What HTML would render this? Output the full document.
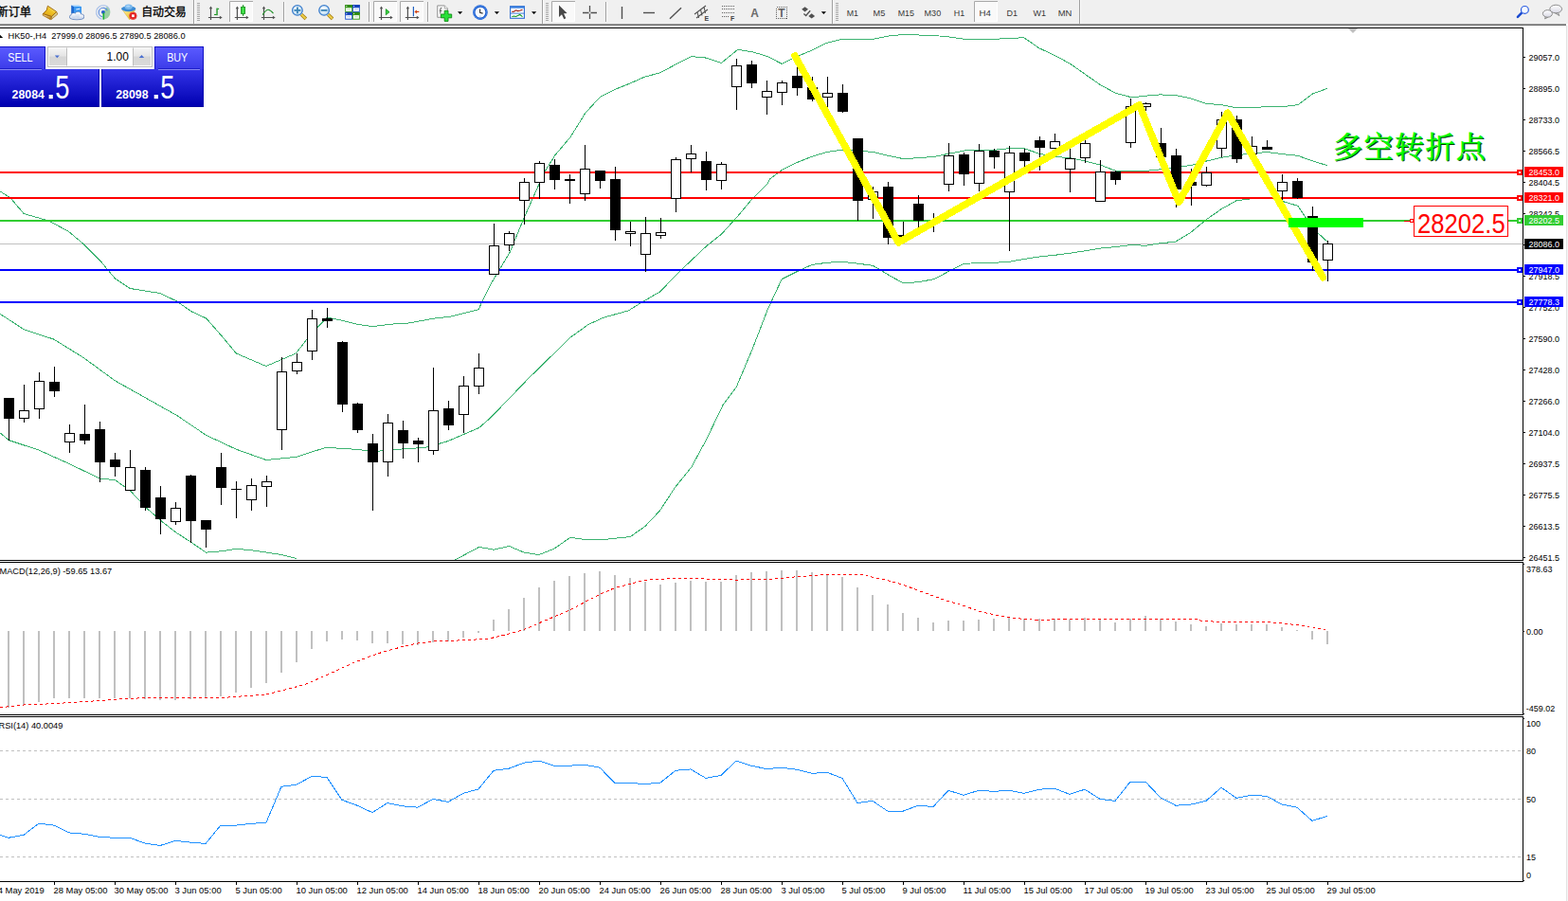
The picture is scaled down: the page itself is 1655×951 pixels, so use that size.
<!DOCTYPE html>
<html><head><meta charset="utf-8"><title>HK50 H4</title>
<style>
html,body{margin:0;padding:0;background:#fff;overflow:hidden}
body{width:1655px;height:951px;position:relative;font-family:'Liberation Sans',sans-serif}
</style></head>
<body>
<svg width="1655" height="951" viewBox="0 0 1655 951" style="position:absolute;left:0;top:0" font-family="'Liberation Sans', sans-serif" shape-rendering="crispEdges">
<defs><clipPath id="cm"><rect x="0" y="30" width="1607" height="561"/></clipPath><clipPath id="cd"><rect x="0" y="594" width="1607" height="160"/></clipPath><clipPath id="cr"><rect x="0" y="757" width="1607" height="173"/></clipPath></defs>
<g clip-path="url(#cm)">
<rect x="0" y="257" width="1607" height="1" fill="#C0C0C0"/>
<polyline points="0.0,201.9 11.0,208.9 25.2,225.6 52.1,233.2 72.6,244.5 88.4,257.8 105.7,275.1 121.5,294.1 137.3,304.5 168.8,309.5 186.2,317.7 202.0,328.8 217.7,336.0 233.5,354.0 249.3,373.0 280.8,386.5 312.4,373.0 328.2,352.4 345.5,335.1 361.3,338.2 377.1,342.3 392.9,344.6 420.0,341.4 431.6,341.0 456.8,336.3 475.7,334.1 505.1,326.8 508.9,318.3 518.1,299.8 537.9,266.7 553.6,228.9 566.2,200.5 575.7,180.0 586.0,163.6 602.0,144.8 617.7,119.5 633.5,102.2 649.3,94.3 665.1,88.0 680.8,81.0 696.6,76.9 712.4,68.4 729.8,59.6 745.5,61.1 761.3,66.5 778.7,52.3 794.4,54.8 810.2,59.6 825.2,67.4 841.0,59.6 856.8,53.2 872.6,45.4 888.4,41.3 921.5,41.3 937.3,38.1 953.0,36.5 986.2,37.5 1002.0,39.0 1017.7,41.3 1049.3,41.3 1080.8,39.7 1096.6,50.7 1112.4,58.0 1129.8,67.4 1145.5,78.5 1161.3,89.5 1177.1,98.1 1194.4,102.8 1208.9,101.2 1224.7,99.9 1240.5,100.6 1256.3,103.7 1273.6,109.4 1289.4,110.7 1305.2,113.8 1321.0,113.8 1336.7,112.6 1354.1,112.6 1369.9,110.7 1385.6,99.0 1401.1,93.3" fill="none" stroke="#3CB371" stroke-width="1" />
<polyline points="0.0,331.3 25.2,347.7 56.8,358.1 88.4,377.7 121.5,401.9 186.2,438.2 217.7,459.4 249.3,474.2 280.8,485.5 312.4,482.4 344.0,472.3 378.7,474.5 393.5,476.7 420.0,474.2 431.6,473.6 450.5,472.0 472.6,465.7 505.7,451.5 518.3,440.4 557.8,399.4 602.0,356.2 620.9,342.6 636.7,335.3 663.5,327.8 677.7,318.9 696.6,307.9 718.7,285.2 745.5,259.9 761.3,247.3 777.1,230.0 794.4,209.4 810.2,193.7 812.6,188.9 825.2,179.5 841.0,171.6 856.8,165.3 872.6,160.5 889.9,158.0 905.7,159.0 921.5,160.5 937.3,164.3 953.0,167.5 968.8,166.8 986.2,165.3 1002.0,162.1 1017.7,159.0 1033.5,158.3 1049.3,158.3 1065.1,156.7 1080.8,156.7 1096.6,162.1 1112.4,165.3 1129.8,166.8 1145.5,170.0 1161.3,174.1 1177.1,180.1 1194.4,181.0 1208.9,180.4 1224.7,178.8 1240.5,176.3 1256.3,174.7 1273.6,170.0 1289.4,166.2 1305.2,163.7 1321.0,162.1 1336.7,160.5 1354.1,162.7 1369.9,164.3 1385.6,170.0 1401.1,174.7" fill="none" stroke="#3CB371" stroke-width="1" />
<polyline points="0.0,456.8 9.5,464.7 41.0,475.1 72.6,489.3 105.4,505.1 121.5,506.7 137.3,517.7 153.4,535.1 169.5,549.3 185.5,561.9 201.3,572.0 217.4,583.1 233.5,581.8 249.6,579.3 265.4,580.8 281.5,583.1 297.6,585.6 313.3,589.7" fill="none" stroke="#3CB371" stroke-width="1" />
<polyline points="480.5,590.9 505.7,577.4 521.5,580.2 537.3,576.4 553.0,583.1 568.8,585.6 584.6,579.3 602.0,567.3 617.7,569.5 636.7,569.5 665.1,566.6 680.8,555.6 696.6,538.9 712.4,514.6 729.8,493.1 745.5,464.1 762.9,427.8 777.1,408.9 794.4,367.8 810.2,326.8 825.2,294.6 841.0,286.8 856.8,279.5 872.6,277.3 888.4,276.3 905.7,278.2 921.5,280.4 937.3,289.9 953.0,298.7 968.8,297.8 986.2,294.6 1002.0,286.1 1017.7,278.2 1049.3,277.3 1065.1,276.3 1080.8,273.5 1096.6,271.0 1112.4,269.4 1129.8,267.2 1145.5,264.7 1161.3,262.1 1177.1,260.6 1194.4,258.4 1208.9,259.3 1224.7,256.8 1240.5,255.2 1256.3,245.7 1273.6,231.5 1289.4,220.5 1305.2,211.7 1325.7,209.1 1344.0,209.4 1354.1,212.6 1369.9,217.3 1385.6,241.0 1401.1,255.2" fill="none" stroke="#3CB371" stroke-width="1" />
<rect x="0" y="181" width="1607" height="2" fill="#FF0000"/>
<rect x="0" y="208" width="1607" height="2" fill="#FF0000"/>
<rect x="0" y="232" width="1607" height="2" fill="#32CD32"/>
<rect x="0" y="284" width="1607" height="2" fill="#0000FF"/>
<rect x="0" y="318" width="1607" height="2" fill="#0000FF"/>
<rect x="1601" y="179" width="6" height="6" fill="#FF0000"/><rect x="1603" y="181" width="2" height="2" fill="#fff"/>
<rect x="1601" y="206" width="6" height="6" fill="#FF0000"/><rect x="1603" y="208" width="2" height="2" fill="#fff"/>
<rect x="1601" y="230" width="6" height="6" fill="#32CD32"/><rect x="1603" y="232" width="2" height="2" fill="#fff"/>
<rect x="1601" y="282" width="6" height="6" fill="#0000FF"/><rect x="1603" y="284" width="2" height="2" fill="#fff"/>
<rect x="1601" y="316" width="6" height="6" fill="#0000FF"/><rect x="1603" y="318" width="2" height="2" fill="#fff"/>
<rect x="9" y="420" width="1" height="45" fill="#000"/>
<rect x="4" y="420" width="11" height="22" fill="#000"/>
<rect x="25" y="406" width="1" height="40" fill="#000"/>
<rect x="20.5" y="433.5" width="10" height="8" fill="#fff" stroke="#000" stroke-width="1"/>
<rect x="41" y="393" width="1" height="49" fill="#000"/>
<rect x="36.5" y="402.5" width="10" height="29" fill="#fff" stroke="#000" stroke-width="1"/>
<rect x="57" y="387" width="1" height="32" fill="#000"/>
<rect x="52" y="403" width="11" height="10" fill="#000"/>
<rect x="73" y="448" width="1" height="30" fill="#000"/>
<rect x="68.5" y="457.5" width="10" height="9" fill="#fff" stroke="#000" stroke-width="1"/>
<rect x="89" y="427" width="1" height="42" fill="#000"/>
<rect x="84" y="458" width="11" height="7" fill="#000"/>
<rect x="105" y="445" width="1" height="64" fill="#000"/>
<rect x="100" y="453" width="11" height="35" fill="#000"/>
<rect x="121" y="478" width="1" height="25" fill="#000"/>
<rect x="116" y="485" width="11" height="8" fill="#000"/>
<rect x="137" y="475" width="1" height="43" fill="#000"/>
<rect x="132.5" y="493.5" width="10" height="24" fill="#fff" stroke="#000" stroke-width="1"/>
<rect x="153" y="493" width="1" height="46" fill="#000"/>
<rect x="148" y="496" width="11" height="40" fill="#000"/>
<rect x="169" y="513" width="1" height="51" fill="#000"/>
<rect x="164" y="525" width="11" height="23" fill="#000"/>
<rect x="185" y="530" width="1" height="24" fill="#000"/>
<rect x="180.5" y="536.5" width="10" height="14" fill="#fff" stroke="#000" stroke-width="1"/>
<rect x="201" y="501" width="1" height="72" fill="#000"/>
<rect x="196" y="502" width="11" height="48" fill="#000"/>
<rect x="217" y="549" width="1" height="29" fill="#000"/>
<rect x="212" y="549" width="11" height="10" fill="#000"/>
<rect x="233" y="478" width="1" height="55" fill="#000"/>
<rect x="228" y="493" width="11" height="22" fill="#000"/>
<rect x="249" y="508" width="1" height="39" fill="#000"/>
<rect x="244" y="516" width="11" height="1" fill="#000"/>
<rect x="265" y="505" width="1" height="34" fill="#000"/>
<rect x="260.5" y="512.5" width="10" height="15" fill="#fff" stroke="#000" stroke-width="1"/>
<rect x="281" y="502" width="1" height="33" fill="#000"/>
<rect x="276.5" y="508.5" width="10" height="5" fill="#fff" stroke="#000" stroke-width="1"/>
<rect x="297" y="377" width="1" height="98" fill="#000"/>
<rect x="292.5" y="392.5" width="10" height="61" fill="#fff" stroke="#000" stroke-width="1"/>
<rect x="313" y="373" width="1" height="22" fill="#000"/>
<rect x="308.5" y="382.5" width="10" height="9" fill="#fff" stroke="#000" stroke-width="1"/>
<rect x="329" y="327" width="1" height="53" fill="#000"/>
<rect x="324.5" y="336.5" width="10" height="34" fill="#fff" stroke="#000" stroke-width="1"/>
<rect x="345" y="325" width="1" height="21" fill="#000"/>
<rect x="340" y="336" width="11" height="3" fill="#000"/>
<rect x="361" y="360" width="1" height="75" fill="#000"/>
<rect x="356" y="361" width="11" height="66" fill="#000"/>
<rect x="377" y="425" width="1" height="32" fill="#000"/>
<rect x="372" y="426" width="11" height="28" fill="#000"/>
<rect x="393" y="458" width="1" height="81" fill="#000"/>
<rect x="388" y="468" width="11" height="20" fill="#000"/>
<rect x="409" y="437" width="1" height="66" fill="#000"/>
<rect x="404.5" y="446.5" width="10" height="41" fill="#fff" stroke="#000" stroke-width="1"/>
<rect x="425" y="444" width="1" height="40" fill="#000"/>
<rect x="420" y="454" width="11" height="14" fill="#000"/>
<rect x="441" y="462" width="1" height="26" fill="#000"/>
<rect x="436" y="465" width="11" height="4" fill="#000"/>
<rect x="457" y="388" width="1" height="92" fill="#000"/>
<rect x="452.5" y="433.5" width="10" height="42" fill="#fff" stroke="#000" stroke-width="1"/>
<rect x="473" y="423" width="1" height="31" fill="#000"/>
<rect x="468" y="431" width="11" height="18" fill="#000"/>
<rect x="489" y="397" width="1" height="60" fill="#000"/>
<rect x="484.5" y="407.5" width="10" height="30" fill="#fff" stroke="#000" stroke-width="1"/>
<rect x="505" y="373" width="1" height="43" fill="#000"/>
<rect x="500.5" y="388.5" width="10" height="19" fill="#fff" stroke="#000" stroke-width="1"/>
<rect x="521" y="236" width="1" height="54" fill="#000"/>
<rect x="516.5" y="259.5" width="10" height="30" fill="#fff" stroke="#000" stroke-width="1"/>
<rect x="537" y="244" width="1" height="21" fill="#000"/>
<rect x="532.5" y="246.5" width="10" height="12" fill="#fff" stroke="#000" stroke-width="1"/>
<rect x="553" y="188" width="1" height="49" fill="#000"/>
<rect x="548.5" y="192.5" width="10" height="19" fill="#fff" stroke="#000" stroke-width="1"/>
<rect x="569" y="170" width="1" height="40" fill="#000"/>
<rect x="564.5" y="172.5" width="10" height="20" fill="#fff" stroke="#000" stroke-width="1"/>
<rect x="585" y="168" width="1" height="32" fill="#000"/>
<rect x="580" y="174" width="11" height="16" fill="#000"/>
<rect x="601" y="184" width="1" height="31" fill="#000"/>
<rect x="596" y="189" width="11" height="2" fill="#000"/>
<rect x="617" y="153" width="1" height="59" fill="#000"/>
<rect x="612.5" y="178.5" width="10" height="26" fill="#fff" stroke="#000" stroke-width="1"/>
<rect x="633" y="180" width="1" height="19" fill="#000"/>
<rect x="628" y="180" width="11" height="11" fill="#000"/>
<rect x="649" y="176" width="1" height="78" fill="#000"/>
<rect x="644" y="189" width="11" height="54" fill="#000"/>
<rect x="665" y="234" width="1" height="26" fill="#000"/>
<rect x="660.5" y="244.5" width="10" height="2" fill="#fff" stroke="#000" stroke-width="1"/>
<rect x="681" y="229" width="1" height="58" fill="#000"/>
<rect x="676.5" y="246.5" width="10" height="22" fill="#fff" stroke="#000" stroke-width="1"/>
<rect x="697" y="230" width="1" height="22" fill="#000"/>
<rect x="692.5" y="245.5" width="10" height="3" fill="#fff" stroke="#000" stroke-width="1"/>
<rect x="713" y="166" width="1" height="58" fill="#000"/>
<rect x="708.5" y="168.5" width="10" height="41" fill="#fff" stroke="#000" stroke-width="1"/>
<rect x="729" y="153" width="1" height="29" fill="#000"/>
<rect x="724.5" y="162.5" width="10" height="5" fill="#fff" stroke="#000" stroke-width="1"/>
<rect x="745" y="160" width="1" height="41" fill="#000"/>
<rect x="740" y="170" width="11" height="20" fill="#000"/>
<rect x="761" y="171" width="1" height="29" fill="#000"/>
<rect x="756.5" y="173.5" width="10" height="17" fill="#fff" stroke="#000" stroke-width="1"/>
<rect x="777" y="62" width="1" height="54" fill="#000"/>
<rect x="772.5" y="69.5" width="10" height="22" fill="#fff" stroke="#000" stroke-width="1"/>
<rect x="793" y="64" width="1" height="29" fill="#000"/>
<rect x="788" y="68" width="11" height="20" fill="#000"/>
<rect x="809" y="85" width="1" height="36" fill="#000"/>
<rect x="804.5" y="96.5" width="10" height="6" fill="#fff" stroke="#000" stroke-width="1"/>
<rect x="825" y="85" width="1" height="26" fill="#000"/>
<rect x="820.5" y="87.5" width="10" height="10" fill="#fff" stroke="#000" stroke-width="1"/>
<rect x="841" y="70" width="1" height="31" fill="#000"/>
<rect x="836" y="80" width="11" height="13" fill="#000"/>
<rect x="857" y="81" width="1" height="26" fill="#000"/>
<rect x="852" y="92" width="11" height="13" fill="#000"/>
<rect x="873" y="81" width="1" height="34" fill="#000"/>
<rect x="868.5" y="98.5" width="10" height="4" fill="#fff" stroke="#000" stroke-width="1"/>
<rect x="889" y="89" width="1" height="30" fill="#000"/>
<rect x="884" y="98" width="11" height="20" fill="#000"/>
<rect x="905" y="146" width="1" height="87" fill="#000"/>
<rect x="900" y="146" width="11" height="66" fill="#000"/>
<rect x="921" y="197" width="1" height="34" fill="#000"/>
<rect x="916.5" y="202.5" width="10" height="8" fill="#fff" stroke="#000" stroke-width="1"/>
<rect x="937" y="192" width="1" height="66" fill="#000"/>
<rect x="932" y="197" width="11" height="54" fill="#000"/>
<rect x="953" y="234" width="1" height="17" fill="#000"/>
<rect x="948" y="248" width="11" height="3" fill="#000"/>
<rect x="969" y="206" width="1" height="34" fill="#000"/>
<rect x="964" y="215" width="11" height="18" fill="#000"/>
<rect x="985" y="225" width="1" height="20" fill="#000"/>
<rect x="980" y="233" width="11" height="2" fill="#000"/>
<rect x="1001" y="151" width="1" height="51" fill="#000"/>
<rect x="996.5" y="164.5" width="10" height="30" fill="#fff" stroke="#000" stroke-width="1"/>
<rect x="1017" y="161" width="1" height="35" fill="#000"/>
<rect x="1012" y="163" width="11" height="21" fill="#000"/>
<rect x="1033" y="152" width="1" height="50" fill="#000"/>
<rect x="1028.5" y="159.5" width="10" height="34" fill="#fff" stroke="#000" stroke-width="1"/>
<rect x="1049" y="157" width="1" height="21" fill="#000"/>
<rect x="1044" y="159" width="11" height="7" fill="#000"/>
<rect x="1065" y="154" width="1" height="111" fill="#000"/>
<rect x="1060.5" y="161.5" width="10" height="41" fill="#fff" stroke="#000" stroke-width="1"/>
<rect x="1081" y="157" width="1" height="20" fill="#000"/>
<rect x="1076" y="161" width="11" height="9" fill="#000"/>
<rect x="1097" y="144" width="1" height="36" fill="#000"/>
<rect x="1092" y="148" width="11" height="8" fill="#000"/>
<rect x="1113" y="141" width="1" height="16" fill="#000"/>
<rect x="1108.5" y="149.5" width="10" height="7" fill="#fff" stroke="#000" stroke-width="1"/>
<rect x="1129" y="156" width="1" height="47" fill="#000"/>
<rect x="1124.5" y="167.5" width="10" height="11" fill="#fff" stroke="#000" stroke-width="1"/>
<rect x="1145" y="147" width="1" height="25" fill="#000"/>
<rect x="1140.5" y="151.5" width="10" height="15" fill="#fff" stroke="#000" stroke-width="1"/>
<rect x="1161" y="169" width="1" height="44" fill="#000"/>
<rect x="1156.5" y="181.5" width="10" height="31" fill="#fff" stroke="#000" stroke-width="1"/>
<rect x="1177" y="180" width="1" height="15" fill="#000"/>
<rect x="1172" y="181" width="11" height="9" fill="#000"/>
<rect x="1193" y="104" width="1" height="52" fill="#000"/>
<rect x="1188.5" y="112.5" width="10" height="38" fill="#fff" stroke="#000" stroke-width="1"/>
<rect x="1209" y="108" width="1" height="9" fill="#000"/>
<rect x="1204.5" y="109.5" width="10" height="3" fill="#fff" stroke="#000" stroke-width="1"/>
<rect x="1225" y="135" width="1" height="31" fill="#000"/>
<rect x="1220" y="151" width="11" height="15" fill="#000"/>
<rect x="1241" y="157" width="1" height="62" fill="#000"/>
<rect x="1236" y="164" width="11" height="36" fill="#000"/>
<rect x="1257" y="178" width="1" height="39" fill="#000"/>
<rect x="1252" y="192" width="11" height="4" fill="#000"/>
<rect x="1273" y="176" width="1" height="21" fill="#000"/>
<rect x="1268.5" y="182.5" width="10" height="13" fill="#fff" stroke="#000" stroke-width="1"/>
<rect x="1289" y="118" width="1" height="48" fill="#000"/>
<rect x="1284.5" y="126.5" width="10" height="30" fill="#fff" stroke="#000" stroke-width="1"/>
<rect x="1305" y="122" width="1" height="50" fill="#000"/>
<rect x="1300" y="126" width="11" height="42" fill="#000"/>
<rect x="1321" y="144" width="1" height="19" fill="#000"/>
<rect x="1316.5" y="154.5" width="10" height="8" fill="#fff" stroke="#000" stroke-width="1"/>
<rect x="1337" y="148" width="1" height="10" fill="#000"/>
<rect x="1332" y="155" width="11" height="3" fill="#000"/>
<rect x="1353" y="184" width="1" height="28" fill="#000"/>
<rect x="1348.5" y="192.5" width="10" height="9" fill="#fff" stroke="#000" stroke-width="1"/>
<rect x="1369" y="188" width="1" height="22" fill="#000"/>
<rect x="1364" y="191" width="11" height="18" fill="#000"/>
<rect x="1385" y="218" width="1" height="68" fill="#000"/>
<rect x="1380" y="228" width="11" height="49" fill="#000"/>
<rect x="1401" y="254" width="1" height="43" fill="#000"/>
<rect x="1396.5" y="257.5" width="10" height="17" fill="#fff" stroke="#000" stroke-width="1"/>
<polyline points="839.0,59.0 948.3,256.0 1202.6,110.8 1244.3,213.5 1295.7,119.2 1396.5,292.8" fill="none" stroke="#FFFF00" stroke-width="7.5" shape-rendering="crispEdges" stroke-linejoin="round" stroke-linecap="round"/>
<rect x="1360" y="230" width="79" height="10" fill="#00FF00"/>
<rect x="1482" y="233" width="7" height="1" fill="#FF0000"/>
<rect x="1488.5" y="231.5" width="3" height="3" fill="#fff" stroke="#FF0000"/>
<rect x="1492.5" y="217.5" width="99" height="32" fill="#fff" stroke="#FF0000" stroke-width="1"/>
<text transform="translate(1496,245.5) scale(0.855,1)" font-size="30" fill="#FF0000" text-anchor="start" font-weight="normal" shape-rendering="geometricPrecision">28202.5</text>
<path d="M1423 30 L1433 30 L1428 35 Z" fill="#C0C0C0" shape-rendering="geometricPrecision"/>
</g>
<rect x="0" y="29" width="1608" height="1" fill="#000"/>
<rect x="0" y="591" width="1608" height="1" fill="#000"/>
<rect x="0" y="593" width="1608" height="1" fill="#000"/>
<rect x="0" y="754" width="1608" height="1" fill="#000"/>
<rect x="0" y="756" width="1608" height="1" fill="#000"/>
<rect x="0" y="930" width="1608" height="1" fill="#000"/>
<rect x="1607" y="29" width="1" height="562" fill="#000"/>
<rect x="1607" y="593" width="1" height="161" fill="#000"/>
<rect x="1607" y="756" width="1" height="175" fill="#000"/>
<g shape-rendering="geometricPrecision">
<rect x="1608" y="60" width="2" height="1" fill="#000"/>
<text transform="translate(1613.5,64) scale(0.968,1)" font-size="9.3" fill="#000" text-anchor="start" font-weight="normal" >29057.0</text>
<rect x="1608" y="93" width="2" height="1" fill="#000"/>
<text transform="translate(1613.5,97) scale(0.968,1)" font-size="9.3" fill="#000" text-anchor="start" font-weight="normal" >28895.0</text>
<rect x="1608" y="126" width="2" height="1" fill="#000"/>
<text transform="translate(1613.5,130) scale(0.968,1)" font-size="9.3" fill="#000" text-anchor="start" font-weight="normal" >28733.0</text>
<rect x="1608" y="159" width="2" height="1" fill="#000"/>
<text transform="translate(1613.5,163) scale(0.968,1)" font-size="9.3" fill="#000" text-anchor="start" font-weight="normal" >28566.5</text>
<rect x="1608" y="192" width="2" height="1" fill="#000"/>
<text transform="translate(1613.5,196) scale(0.968,1)" font-size="9.3" fill="#000" text-anchor="start" font-weight="normal" >28404.5</text>
<rect x="1608" y="225" width="2" height="1" fill="#000"/>
<text transform="translate(1613.5,229) scale(0.968,1)" font-size="9.3" fill="#000" text-anchor="start" font-weight="normal" >28242.5</text>
<rect x="1608" y="258" width="2" height="1" fill="#000"/>
<rect x="1608" y="291" width="2" height="1" fill="#000"/>
<text transform="translate(1613.5,295) scale(0.968,1)" font-size="9.3" fill="#000" text-anchor="start" font-weight="normal" >27918.5</text>
<rect x="1608" y="324" width="2" height="1" fill="#000"/>
<text transform="translate(1613.5,328) scale(0.968,1)" font-size="9.3" fill="#000" text-anchor="start" font-weight="normal" >27752.0</text>
<rect x="1608" y="357" width="2" height="1" fill="#000"/>
<text transform="translate(1613.5,361) scale(0.968,1)" font-size="9.3" fill="#000" text-anchor="start" font-weight="normal" >27590.0</text>
<rect x="1608" y="390" width="2" height="1" fill="#000"/>
<text transform="translate(1613.5,394) scale(0.968,1)" font-size="9.3" fill="#000" text-anchor="start" font-weight="normal" >27428.0</text>
<rect x="1608" y="423" width="2" height="1" fill="#000"/>
<text transform="translate(1613.5,427) scale(0.968,1)" font-size="9.3" fill="#000" text-anchor="start" font-weight="normal" >27266.0</text>
<rect x="1608" y="456" width="2" height="1" fill="#000"/>
<text transform="translate(1613.5,460) scale(0.968,1)" font-size="9.3" fill="#000" text-anchor="start" font-weight="normal" >27104.0</text>
<rect x="1608" y="489" width="2" height="1" fill="#000"/>
<text transform="translate(1613.5,493) scale(0.968,1)" font-size="9.3" fill="#000" text-anchor="start" font-weight="normal" >26937.5</text>
<rect x="1608" y="522" width="2" height="1" fill="#000"/>
<text transform="translate(1613.5,526) scale(0.968,1)" font-size="9.3" fill="#000" text-anchor="start" font-weight="normal" >26775.5</text>
<rect x="1608" y="555" width="2" height="1" fill="#000"/>
<text transform="translate(1613.5,559) scale(0.968,1)" font-size="9.3" fill="#000" text-anchor="start" font-weight="normal" >26613.5</text>
<rect x="1608" y="588" width="2" height="1" fill="#000"/>
<text transform="translate(1613.5,592) scale(0.968,1)" font-size="9.3" fill="#000" text-anchor="start" font-weight="normal" >26451.5</text>
<rect x="1609" y="176" width="41" height="11" fill="#FF0000" shape-rendering="crispEdges"/>
<text transform="translate(1613.5,184.7) scale(0.968,1)" font-size="9.3" fill="#fff" text-anchor="start" font-weight="normal" >28453.0</text>
<rect x="1609" y="203" width="41" height="11" fill="#FF0000" shape-rendering="crispEdges"/>
<text transform="translate(1613.5,211.7) scale(0.968,1)" font-size="9.3" fill="#fff" text-anchor="start" font-weight="normal" >28321.0</text>
<rect x="1609" y="227" width="41" height="11" fill="#32CD32" shape-rendering="crispEdges"/>
<text transform="translate(1613.5,235.7) scale(0.968,1)" font-size="9.3" fill="#fff" text-anchor="start" font-weight="normal" >28202.5</text>
<rect x="1609" y="252" width="41" height="11" fill="#000000" shape-rendering="crispEdges"/>
<text transform="translate(1613.5,260.7) scale(0.968,1)" font-size="9.3" fill="#fff" text-anchor="start" font-weight="normal" >28086.0</text>
<rect x="1609" y="279" width="41" height="11" fill="#0000FF" shape-rendering="crispEdges"/>
<text transform="translate(1613.5,287.7) scale(0.968,1)" font-size="9.3" fill="#fff" text-anchor="start" font-weight="normal" >27947.0</text>
<rect x="1609" y="313" width="41" height="11" fill="#0000FF" shape-rendering="crispEdges"/>
<text transform="translate(1613.5,321.7) scale(0.968,1)" font-size="9.3" fill="#fff" text-anchor="start" font-weight="normal" >27778.3</text>
<text transform="translate(8.5,41) scale(0.995,1)" font-size="9.3" fill="#000" text-anchor="start" font-weight="normal" >HK50-,H4&#160; 27999.0 28096.5 27890.5 28086.0</text>
<path d="M0 36.8 L3.2 40 L0 40 Z" fill="#000"/>
</g>
<g clip-path="url(#cd)">
<rect x="8" y="666" width="2" height="81" fill="#C0C0C0"/>
<rect x="24" y="666" width="2" height="78" fill="#C0C0C0"/>
<rect x="40" y="666" width="2" height="75" fill="#C0C0C0"/>
<rect x="56" y="666" width="2" height="71" fill="#C0C0C0"/>
<rect x="72" y="666" width="2" height="71" fill="#C0C0C0"/>
<rect x="88" y="666" width="2" height="71" fill="#C0C0C0"/>
<rect x="104" y="666" width="2" height="71" fill="#C0C0C0"/>
<rect x="120" y="666" width="2" height="71" fill="#C0C0C0"/>
<rect x="136" y="666" width="2" height="71" fill="#C0C0C0"/>
<rect x="152" y="666" width="2" height="72" fill="#C0C0C0"/>
<rect x="168" y="666" width="2" height="73" fill="#C0C0C0"/>
<rect x="184" y="666" width="2" height="73" fill="#C0C0C0"/>
<rect x="200" y="666" width="2" height="72" fill="#C0C0C0"/>
<rect x="216" y="666" width="2" height="71" fill="#C0C0C0"/>
<rect x="232" y="666" width="2" height="69" fill="#C0C0C0"/>
<rect x="248" y="666" width="2" height="65" fill="#C0C0C0"/>
<rect x="264" y="666" width="2" height="60" fill="#C0C0C0"/>
<rect x="280" y="666" width="2" height="55" fill="#C0C0C0"/>
<rect x="296" y="666" width="2" height="44" fill="#C0C0C0"/>
<rect x="312" y="666" width="2" height="33" fill="#C0C0C0"/>
<rect x="328" y="666" width="2" height="19" fill="#C0C0C0"/>
<rect x="344" y="666" width="2" height="11" fill="#C0C0C0"/>
<rect x="360" y="666" width="2" height="9" fill="#C0C0C0"/>
<rect x="376" y="666" width="2" height="10" fill="#C0C0C0"/>
<rect x="392" y="666" width="2" height="13" fill="#C0C0C0"/>
<rect x="408" y="666" width="2" height="13" fill="#C0C0C0"/>
<rect x="424" y="666" width="2" height="14" fill="#C0C0C0"/>
<rect x="440" y="666" width="2" height="15" fill="#C0C0C0"/>
<rect x="456" y="666" width="2" height="12" fill="#C0C0C0"/>
<rect x="472" y="666" width="2" height="11" fill="#C0C0C0"/>
<rect x="488" y="666" width="2" height="7" fill="#C0C0C0"/>
<rect x="504" y="666" width="2" height="2" fill="#C0C0C0"/>
<rect x="520" y="654" width="2" height="12" fill="#C0C0C0"/>
<rect x="536" y="643" width="2" height="23" fill="#C0C0C0"/>
<rect x="552" y="631" width="2" height="35" fill="#C0C0C0"/>
<rect x="568" y="620" width="2" height="46" fill="#C0C0C0"/>
<rect x="584" y="613" width="2" height="53" fill="#C0C0C0"/>
<rect x="600" y="608" width="2" height="58" fill="#C0C0C0"/>
<rect x="616" y="605" width="2" height="61" fill="#C0C0C0"/>
<rect x="632" y="603" width="2" height="63" fill="#C0C0C0"/>
<rect x="648" y="607" width="2" height="59" fill="#C0C0C0"/>
<rect x="664" y="610" width="2" height="56" fill="#C0C0C0"/>
<rect x="680" y="614" width="2" height="52" fill="#C0C0C0"/>
<rect x="696" y="617" width="2" height="49" fill="#C0C0C0"/>
<rect x="712" y="615" width="2" height="51" fill="#C0C0C0"/>
<rect x="728" y="613" width="2" height="53" fill="#C0C0C0"/>
<rect x="744" y="614" width="2" height="52" fill="#C0C0C0"/>
<rect x="760" y="614" width="2" height="52" fill="#C0C0C0"/>
<rect x="776" y="607" width="2" height="59" fill="#C0C0C0"/>
<rect x="792" y="604" width="2" height="62" fill="#C0C0C0"/>
<rect x="808" y="603" width="2" height="63" fill="#C0C0C0"/>
<rect x="824" y="602" width="2" height="64" fill="#C0C0C0"/>
<rect x="840" y="602" width="2" height="64" fill="#C0C0C0"/>
<rect x="856" y="604" width="2" height="62" fill="#C0C0C0"/>
<rect x="872" y="606" width="2" height="60" fill="#C0C0C0"/>
<rect x="888" y="609" width="2" height="57" fill="#C0C0C0"/>
<rect x="904" y="620" width="2" height="46" fill="#C0C0C0"/>
<rect x="920" y="628" width="2" height="38" fill="#C0C0C0"/>
<rect x="936" y="638" width="2" height="28" fill="#C0C0C0"/>
<rect x="952" y="647" width="2" height="19" fill="#C0C0C0"/>
<rect x="968" y="652" width="2" height="14" fill="#C0C0C0"/>
<rect x="984" y="657" width="2" height="9" fill="#C0C0C0"/>
<rect x="1000" y="655" width="2" height="11" fill="#C0C0C0"/>
<rect x="1016" y="655" width="2" height="11" fill="#C0C0C0"/>
<rect x="1032" y="654" width="2" height="12" fill="#C0C0C0"/>
<rect x="1048" y="653" width="2" height="13" fill="#C0C0C0"/>
<rect x="1064" y="652" width="2" height="14" fill="#C0C0C0"/>
<rect x="1080" y="653" width="2" height="13" fill="#C0C0C0"/>
<rect x="1096" y="653" width="2" height="13" fill="#C0C0C0"/>
<rect x="1112" y="653" width="2" height="13" fill="#C0C0C0"/>
<rect x="1128" y="654" width="2" height="12" fill="#C0C0C0"/>
<rect x="1144" y="652" width="2" height="14" fill="#C0C0C0"/>
<rect x="1160" y="654" width="2" height="12" fill="#C0C0C0"/>
<rect x="1176" y="657" width="2" height="9" fill="#C0C0C0"/>
<rect x="1192" y="653" width="2" height="13" fill="#C0C0C0"/>
<rect x="1208" y="650" width="2" height="16" fill="#C0C0C0"/>
<rect x="1224" y="653" width="2" height="13" fill="#C0C0C0"/>
<rect x="1240" y="656" width="2" height="10" fill="#C0C0C0"/>
<rect x="1256" y="659" width="2" height="7" fill="#C0C0C0"/>
<rect x="1272" y="661" width="2" height="5" fill="#C0C0C0"/>
<rect x="1288" y="658" width="2" height="8" fill="#C0C0C0"/>
<rect x="1304" y="659" width="2" height="7" fill="#C0C0C0"/>
<rect x="1320" y="659" width="2" height="7" fill="#C0C0C0"/>
<rect x="1336" y="659" width="2" height="7" fill="#C0C0C0"/>
<rect x="1352" y="662" width="2" height="4" fill="#C0C0C0"/>
<rect x="1368" y="665" width="2" height="1" fill="#C0C0C0"/>
<rect x="1384" y="666" width="2" height="9" fill="#C0C0C0"/>
<rect x="1400" y="666" width="2" height="14" fill="#C0C0C0"/>
<polyline points="0.0,746.7 25.4,744.0 49.1,743.0 72.7,741.7 98.1,740.0 135.3,737.3 169.2,736.3 236.9,736.3 280.8,732.9 297.8,728.8 321.5,722.7 338.4,715.3 355.3,707.8 372.2,700.0 389.1,693.3 406.0,687.5 423.0,683.1 439.9,679.1 456.8,677.0 473.7,676.4 490.6,675.7 507.6,674.7 517.7,673.7 534.6,669.6 551.5,665.2 568.8,657.7 585.0,651.0 600.9,644.2 616.8,635.8 633.1,627.3 649.0,620.5 664.9,616.5 681.1,612.1 699.0,611.1 736.3,610.4 749.8,611.4 776.9,612.1 810.7,611.4 824.9,610.4 840.8,608.7 857.1,607.7 873.0,606.3 912.2,606.3 921.0,609.4 936.9,612.7 952.8,617.1 969.1,623.2 985.0,629.0 1000.9,634.7 1016.8,639.1 1033.0,645.2 1048.9,648.6 1064.8,651.7 1080.7,653.4 1095.0,654.4 1128.8,653.4 1264.2,653.4 1267.6,655.4 1287.9,656.4 1331.9,656.4 1352.2,657.7 1372.5,660.1 1386.0,662.8 1399.5,664.5" fill="none" stroke="#FF0000" stroke-width="1" stroke-dasharray="3 3"/>
</g>
<g shape-rendering="geometricPrecision">
<text transform="translate(-0.5,606) scale(0.995,1)" font-size="9.3" fill="#000" text-anchor="start" font-weight="normal" >MACD(12,26,9) -59.65 13.67</text>
<rect x="1608" y="595" width="1" height="1" fill="#000"/>
<rect x="1608" y="666" width="1" height="1" fill="#000"/>
<rect x="1608" y="753" width="1" height="1" fill="#000"/>
<rect x="1608" y="758" width="1" height="1" fill="#000"/>
<rect x="1608" y="929" width="1" height="1" fill="#000"/>
<text transform="translate(1611,604) scale(0.968,1)" font-size="9.3" fill="#000" text-anchor="start" font-weight="normal" >378.63</text>
<text transform="translate(1611,670) scale(0.968,1)" font-size="9.3" fill="#000" text-anchor="start" font-weight="normal" >0.00</text>
<text transform="translate(1610.8,751) scale(0.968,1)" font-size="9.3" fill="#000" text-anchor="start" font-weight="normal" >-459.02</text>
</g>
<g clip-path="url(#cr)">
<line x1="0" y1="792.5" x2="1607" y2="792.5" stroke="#C0C0C0" stroke-width="1" stroke-dasharray="3 3"/>
<line x1="0" y1="843.5" x2="1607" y2="843.5" stroke="#C0C0C0" stroke-width="1" stroke-dasharray="3 3"/>
<line x1="0" y1="904.5" x2="1607" y2="904.5" stroke="#C0C0C0" stroke-width="1" stroke-dasharray="3 3"/>
<polyline points="0.0,881.3 9.0,884.3 25.0,881.3 41.0,869.1 57.0,871.1 73.0,878.9 89.0,880.3 105.0,883.3 121.0,884.3 137.0,884.3 153.0,890.1 169.0,892.5 185.0,887.4 201.0,889.1 217.0,890.4 233.0,871.1 249.0,871.1 265.0,869.4 281.0,868.1 297.0,830.2 313.0,828.2 329.0,819.4 345.0,820.4 361.0,844.4 377.0,850.2 393.0,857.6 409.0,847.5 425.0,850.8 441.0,852.2 457.0,843.4 473.0,846.4 489.0,837.3 505.0,832.9 521.0,813.3 537.0,811.2 553.0,805.2 569.0,803.1 585.0,808.2 601.0,808.2 617.0,807.2 633.0,810.2 649.0,826.5 665.0,826.5 681.0,827.5 697.0,826.1 713.0,813.3 729.0,811.9 745.0,821.4 761.0,818.4 777.0,803.1 793.0,808.2 809.0,811.6 825.0,810.2 841.0,812.3 857.0,816.3 873.0,815.3 889.0,821.4 905.0,847.5 921.0,845.4 937.0,856.2 953.0,856.2 969.0,850.2 985.0,851.5 1001.0,834.3 1017.0,839.3 1033.0,834.3 1049.0,835.3 1065.0,834.3 1081.0,837.3 1097.0,833.2 1113.0,832.2 1129.0,838.3 1145.0,833.2 1161.0,843.4 1177.0,845.4 1193.0,825.1 1209.0,825.1 1225.0,842.0 1241.0,850.2 1257.0,849.1 1273.0,845.4 1289.0,831.2 1305.0,842.4 1321.0,839.3 1337.0,840.3 1353.0,849.1 1369.0,852.2 1385.0,866.4 1401.0,861.3" fill="none" stroke="#1E90FF" stroke-width="1" />
</g>
<g shape-rendering="geometricPrecision">
<text transform="translate(-1.5,769) scale(0.995,1)" font-size="9.3" fill="#000" text-anchor="start" font-weight="normal" >RSI(14) 40.0049</text>
<text transform="translate(1611,767) scale(0.968,1)" font-size="9.3" fill="#000" text-anchor="start" font-weight="normal" >100</text>
<text transform="translate(1611,796) scale(0.968,1)" font-size="9.3" fill="#000" text-anchor="start" font-weight="normal" >80</text>
<text transform="translate(1611,847) scale(0.968,1)" font-size="9.3" fill="#000" text-anchor="start" font-weight="normal" >50</text>
<text transform="translate(1611,908) scale(0.968,1)" font-size="9.3" fill="#000" text-anchor="start" font-weight="normal" >15</text>
<text transform="translate(1611,927) scale(0.968,1)" font-size="9.3" fill="#000" text-anchor="start" font-weight="normal" >0</text>
<rect x="-7" y="931" width="1" height="3" fill="#000"/>
<text transform="translate(-7.5,943.4) scale(1.011,1)" font-size="9.3" fill="#000" text-anchor="start" font-weight="normal" >24 May 2019</text>
<rect x="57" y="931" width="1" height="3" fill="#000"/>
<text transform="translate(56.5,943.4) scale(1.011,1)" font-size="9.3" fill="#000" text-anchor="start" font-weight="normal" >28 May 05:00</text>
<rect x="121" y="931" width="1" height="3" fill="#000"/>
<text transform="translate(120.5,943.4) scale(1.011,1)" font-size="9.3" fill="#000" text-anchor="start" font-weight="normal" >30 May 05:00</text>
<rect x="185" y="931" width="1" height="3" fill="#000"/>
<text transform="translate(184.5,943.4) scale(1.011,1)" font-size="9.3" fill="#000" text-anchor="start" font-weight="normal" >3 Jun 05:00</text>
<rect x="249" y="931" width="1" height="3" fill="#000"/>
<text transform="translate(248.5,943.4) scale(1.011,1)" font-size="9.3" fill="#000" text-anchor="start" font-weight="normal" >5 Jun 05:00</text>
<rect x="313" y="931" width="1" height="3" fill="#000"/>
<text transform="translate(312.5,943.4) scale(1.011,1)" font-size="9.3" fill="#000" text-anchor="start" font-weight="normal" >10 Jun 05:00</text>
<rect x="377" y="931" width="1" height="3" fill="#000"/>
<text transform="translate(376.5,943.4) scale(1.011,1)" font-size="9.3" fill="#000" text-anchor="start" font-weight="normal" >12 Jun 05:00</text>
<rect x="441" y="931" width="1" height="3" fill="#000"/>
<text transform="translate(440.5,943.4) scale(1.011,1)" font-size="9.3" fill="#000" text-anchor="start" font-weight="normal" >14 Jun 05:00</text>
<rect x="505" y="931" width="1" height="3" fill="#000"/>
<text transform="translate(504.5,943.4) scale(1.011,1)" font-size="9.3" fill="#000" text-anchor="start" font-weight="normal" >18 Jun 05:00</text>
<rect x="569" y="931" width="1" height="3" fill="#000"/>
<text transform="translate(568.5,943.4) scale(1.011,1)" font-size="9.3" fill="#000" text-anchor="start" font-weight="normal" >20 Jun 05:00</text>
<rect x="633" y="931" width="1" height="3" fill="#000"/>
<text transform="translate(632.5,943.4) scale(1.011,1)" font-size="9.3" fill="#000" text-anchor="start" font-weight="normal" >24 Jun 05:00</text>
<rect x="697" y="931" width="1" height="3" fill="#000"/>
<text transform="translate(696.5,943.4) scale(1.011,1)" font-size="9.3" fill="#000" text-anchor="start" font-weight="normal" >26 Jun 05:00</text>
<rect x="761" y="931" width="1" height="3" fill="#000"/>
<text transform="translate(760.5,943.4) scale(1.011,1)" font-size="9.3" fill="#000" text-anchor="start" font-weight="normal" >28 Jun 05:00</text>
<rect x="825" y="931" width="1" height="3" fill="#000"/>
<text transform="translate(824.5,943.4) scale(1.011,1)" font-size="9.3" fill="#000" text-anchor="start" font-weight="normal" >3 Jul 05:00</text>
<rect x="889" y="931" width="1" height="3" fill="#000"/>
<text transform="translate(888.5,943.4) scale(1.011,1)" font-size="9.3" fill="#000" text-anchor="start" font-weight="normal" >5 Jul 05:00</text>
<rect x="953" y="931" width="1" height="3" fill="#000"/>
<text transform="translate(952.5,943.4) scale(1.011,1)" font-size="9.3" fill="#000" text-anchor="start" font-weight="normal" >9 Jul 05:00</text>
<rect x="1017" y="931" width="1" height="3" fill="#000"/>
<text transform="translate(1016.5,943.4) scale(1.011,1)" font-size="9.3" fill="#000" text-anchor="start" font-weight="normal" >11 Jul 05:00</text>
<rect x="1081" y="931" width="1" height="3" fill="#000"/>
<text transform="translate(1080.5,943.4) scale(1.011,1)" font-size="9.3" fill="#000" text-anchor="start" font-weight="normal" >15 Jul 05:00</text>
<rect x="1145" y="931" width="1" height="3" fill="#000"/>
<text transform="translate(1144.5,943.4) scale(1.011,1)" font-size="9.3" fill="#000" text-anchor="start" font-weight="normal" >17 Jul 05:00</text>
<rect x="1209" y="931" width="1" height="3" fill="#000"/>
<text transform="translate(1208.5,943.4) scale(1.011,1)" font-size="9.3" fill="#000" text-anchor="start" font-weight="normal" >19 Jul 05:00</text>
<rect x="1273" y="931" width="1" height="3" fill="#000"/>
<text transform="translate(1272.5,943.4) scale(1.011,1)" font-size="9.3" fill="#000" text-anchor="start" font-weight="normal" >23 Jul 05:00</text>
<rect x="1337" y="931" width="1" height="3" fill="#000"/>
<text transform="translate(1336.5,943.4) scale(1.011,1)" font-size="9.3" fill="#000" text-anchor="start" font-weight="normal" >25 Jul 05:00</text>
<rect x="1401" y="931" width="1" height="3" fill="#000"/>
<text transform="translate(1400.5,943.4) scale(1.011,1)" font-size="9.3" fill="#000" text-anchor="start" font-weight="normal" >29 Jul 05:00</text>
</g>
</svg>
<svg width="1655" height="951" style="position:absolute;left:0;top:0;pointer-events:none"><text x="1408.3" y="166.7" font-family="'Liberation Serif', 'Noto Serif CJK SC', serif" font-size="31" letter-spacing="1.4" fill="#003800" stroke="#003800" stroke-width="0.31">多空转折点</text><text x="1407.2" y="165.7" font-family="'Liberation Serif', 'Noto Serif CJK SC', serif" font-size="31" letter-spacing="1.4" fill="#00FF00" stroke="#00FF00" stroke-width="0.43">多空转折点</text></svg>
<svg width="1655" height="951" viewBox="0 0 1655 951" style="position:absolute;left:0;top:0" font-family="'Liberation Sans', sans-serif">
<rect x="0" y="0" width="1655" height="25" fill="#F0F0F0"/>
<rect x="0" y="25" width="1653" height="1" fill="#A0A0A0"/><rect x="0" y="26" width="1653" height="1" fill="#696969"/>
<rect x="1653" y="27" width="1" height="924" fill="#E3E3E3"/><rect x="1654" y="27" width="1" height="924" fill="#F6F6F6"/>
<text x="-3.5" y="16.5" font-family="'Liberation Sans', 'Noto Sans CJK SC', sans-serif" font-size="12.2" fill="#000" stroke="#000" stroke-width="0.3">新订单</text>
<text x="149.3" y="16.5" font-family="'Liberation Sans', 'Noto Sans CJK SC', sans-serif" font-size="12" letter-spacing="-0.2" fill="#000" stroke="#000" stroke-width="0.3">自动交易</text>
<rect x="299" y="2" width="1" height="21" fill="#A0A0A0"/><rect x="300" y="2" width="1" height="21" fill="#FAFAFA"/>
<rect x="389" y="2" width="1" height="21" fill="#A0A0A0"/><rect x="390" y="2" width="1" height="21" fill="#FAFAFA"/>
<rect x="451" y="2" width="1" height="21" fill="#A0A0A0"/><rect x="452" y="2" width="1" height="21" fill="#FAFAFA"/>
<rect x="639" y="2" width="1" height="21" fill="#A0A0A0"/><rect x="640" y="2" width="1" height="21" fill="#FAFAFA"/>
<rect x="204" y="0" width="1" height="25" fill="#A0A0A0"/><rect x="205" y="0" width="1" height="25" fill="#FDFDFD"/>
<rect x="572" y="0" width="1" height="25" fill="#A0A0A0"/><rect x="573" y="0" width="1" height="25" fill="#FDFDFD"/>
<rect x="878" y="0" width="1" height="25" fill="#A0A0A0"/><rect x="879" y="0" width="1" height="25" fill="#FDFDFD"/>
<rect x="1139" y="0" width="1" height="25" fill="#A0A0A0"/><rect x="1140" y="0" width="1" height="25" fill="#FDFDFD"/>
<rect x="208" y="3" width="3" height="1" fill="#A8A8A8"/>
<rect x="208" y="5" width="3" height="1" fill="#A8A8A8"/>
<rect x="208" y="7" width="3" height="1" fill="#A8A8A8"/>
<rect x="208" y="9" width="3" height="1" fill="#A8A8A8"/>
<rect x="208" y="11" width="3" height="1" fill="#A8A8A8"/>
<rect x="208" y="13" width="3" height="1" fill="#A8A8A8"/>
<rect x="208" y="15" width="3" height="1" fill="#A8A8A8"/>
<rect x="208" y="17" width="3" height="1" fill="#A8A8A8"/>
<rect x="208" y="19" width="3" height="1" fill="#A8A8A8"/>
<rect x="208" y="21" width="3" height="1" fill="#A8A8A8"/>
<rect x="576" y="3" width="3" height="1" fill="#A8A8A8"/>
<rect x="576" y="5" width="3" height="1" fill="#A8A8A8"/>
<rect x="576" y="7" width="3" height="1" fill="#A8A8A8"/>
<rect x="576" y="9" width="3" height="1" fill="#A8A8A8"/>
<rect x="576" y="11" width="3" height="1" fill="#A8A8A8"/>
<rect x="576" y="13" width="3" height="1" fill="#A8A8A8"/>
<rect x="576" y="15" width="3" height="1" fill="#A8A8A8"/>
<rect x="576" y="17" width="3" height="1" fill="#A8A8A8"/>
<rect x="576" y="19" width="3" height="1" fill="#A8A8A8"/>
<rect x="576" y="21" width="3" height="1" fill="#A8A8A8"/>
<rect x="882" y="3" width="3" height="1" fill="#A8A8A8"/>
<rect x="882" y="5" width="3" height="1" fill="#A8A8A8"/>
<rect x="882" y="7" width="3" height="1" fill="#A8A8A8"/>
<rect x="882" y="9" width="3" height="1" fill="#A8A8A8"/>
<rect x="882" y="11" width="3" height="1" fill="#A8A8A8"/>
<rect x="882" y="13" width="3" height="1" fill="#A8A8A8"/>
<rect x="882" y="15" width="3" height="1" fill="#A8A8A8"/>
<rect x="882" y="17" width="3" height="1" fill="#A8A8A8"/>
<rect x="882" y="19" width="3" height="1" fill="#A8A8A8"/>
<rect x="882" y="21" width="3" height="1" fill="#A8A8A8"/>
<rect x="242" y="1" width="25" height="22" fill="#F9F9F9"/><path d="M242.5 23 L242.5 1.5 L267 1.5" stroke="#A8A8A8" fill="none"/><path d="M243 22.5 L266.5 22.5 L266.5 2" stroke="#FFFFFF" fill="none"/>
<rect x="394" y="1" width="25" height="22" fill="#F9F9F9"/><path d="M394.5 23 L394.5 1.5 L419 1.5" stroke="#A8A8A8" fill="none"/><path d="M395 22.5 L418.5 22.5 L418.5 2" stroke="#FFFFFF" fill="none"/>
<rect x="422" y="1" width="25" height="22" fill="#F9F9F9"/><path d="M422.5 23 L422.5 1.5 L447 1.5" stroke="#A8A8A8" fill="none"/><path d="M423 22.5 L446.5 22.5 L446.5 2" stroke="#FFFFFF" fill="none"/>
<rect x="582" y="1" width="25" height="22" fill="#F9F9F9"/><path d="M582.5 23 L582.5 1.5 L607 1.5" stroke="#A8A8A8" fill="none"/><path d="M583 22.5 L606.5 22.5 L606.5 2" stroke="#FFFFFF" fill="none"/>
<rect x="1028" y="1" width="25" height="22" fill="#F9F9F9"/><path d="M1028.5 23 L1028.5 1.5 L1053 1.5" stroke="#A8A8A8" fill="none"/><path d="M1029 22.5 L1052.5 22.5 L1052.5 2" stroke="#FFFFFF" fill="none"/>
<defs><linearGradient id="gold" x1="0" y1="0" x2="1" y2="1"><stop offset="0" stop-color="#FBE88A"/><stop offset=".5" stop-color="#F0C030"/><stop offset="1" stop-color="#C88A10"/></linearGradient><linearGradient id="cone" x1="0" y1="0" x2="1" y2="1"><stop offset="0" stop-color="#FDF0A0"/><stop offset="1" stop-color="#E8B010"/></linearGradient><linearGradient id="cl" x1="0" y1="0" x2="0" y2="1"><stop offset="0" stop-color="#FFFFFF"/><stop offset="1" stop-color="#C4D2EA"/></linearGradient><linearGradient id="gcan" x1="0" y1="0" x2="1" y2="0"><stop offset="0" stop-color="#10B018"/><stop offset=".5" stop-color="#50F058"/><stop offset="1" stop-color="#10B018"/></linearGradient></defs>
<defs><linearGradient id="cov" x1=".9" y1=".1" x2=".2" y2=".9"><stop offset="0" stop-color="#FFF8A0"/><stop offset=".45" stop-color="#F0C428"/><stop offset="1" stop-color="#E0A818"/></linearGradient><linearGradient id="spn" x1="0" y1="0" x2=".25" y2="1"><stop offset="0" stop-color="#FBE8B0"/><stop offset="1" stop-color="#B87C10"/></linearGradient></defs>
<path d="M59.7 12.4 L60.8 15 L54 20.6 L54.4 17.3 Z" fill="#D8C888" stroke="#9C6408" stroke-width=".7"/>
<path d="M45.3 14.5 L54.4 17.3 L53.3 20.7 L45.1 16.1 Z" fill="url(#spn)" stroke="#9C6408" stroke-width=".7"/>
<path d="M50.4 6.2 L59.7 12.4 L54.4 17.3 L45.3 14.5 L49.2 10.8 Z" fill="url(#cov)" stroke="#9C6408" stroke-width=".9" stroke-linejoin="round"/>
<path d="M75.2 5.4 L83.3 5.4 L86 7 L78 7 Z" fill="#9AD0FF"/><path d="M75.2 5.4 L78 7 L78 15.5 L75.2 14 Z" fill="#1C68D0"/><rect x="78" y="7" width="8" height="8.5" fill="#3C98F0"/><path d="M80.3 10 L84.3 9.3" stroke="#E8F4FF" stroke-width="1.1"/>
<g stroke="#6A88BC" stroke-width="1.3" fill="#6A88BC"><ellipse cx="81" cy="17.8" rx="7.4" ry="2.7"/><circle cx="77.8" cy="16.6" r="2.5"/><circle cx="82.3" cy="15.8" r="3"/><circle cx="86" cy="17.4" r="2.2"/></g>
<g fill="url(#cl)"><ellipse cx="81" cy="17.8" rx="7.4" ry="2.7"/><circle cx="77.8" cy="16.6" r="2.5"/><circle cx="82.3" cy="15.8" r="3"/><circle cx="86" cy="17.4" r="2.2"/></g>
<g fill="none"><path d="M108.9 13 L108.9 20.5 A7.5 7.5 0 0 0 116.4 13 A7.5 7.5 0 0 0 113 6.8 Z" fill="#7CC488" opacity=".75"/><circle cx="108.9" cy="13" r="7.3" stroke="#A8C0E8" stroke-width="1.1" stroke-dasharray="30 16" transform="rotate(100 108.9 13)"/><circle cx="108.9" cy="13" r="4.7" stroke="#5C8CE0" stroke-width="1.2" stroke-dasharray="19 11" transform="rotate(100 108.9 13)"/><circle cx="108.9" cy="12.8" r="1.9" fill="#2458D0"/><path d="M109.3 13.5 L109.3 20.6" stroke="#18B030" stroke-width="1.6"/></g>
<path d="M129.3 10.5 L142.6 10.5 L136.8 20.8 Z" fill="url(#cone)" stroke="#D8A820" stroke-width=".5"/>
<ellipse cx="135.7" cy="9.3" rx="7.7" ry="2.9" fill="#3A8AD4"/><ellipse cx="135.7" cy="7.3" rx="4.1" ry="2.7" fill="#78B8EE"/><ellipse cx="135.2" cy="6.6" rx="2.2" ry="1.2" fill="#A8D4F8"/>
<circle cx="140.4" cy="16.7" r="4" fill="#E01818"/><circle cx="140.4" cy="16.7" r="3.5" fill="none" stroke="#F06050" stroke-width=".6"/><rect x="139" y="15.3" width="2.8" height="2.8" fill="#fff"/>
<g stroke="#505050" stroke-width="1.2" fill="none"><path d="M222.5 8 L222.5 21 M219.9 18.5 L233.5 18.5"/></g><path d="M222.5 6.4 L220.8 9.2 L224.2 9.2 Z M234.7 18.5 L231.9 16.8 L231.9 20.2 Z" fill="#505050"/>
<g fill="#109018"><rect x="228.4" y="8.6" width="1.3" height="7.6"/><rect x="229.5" y="8.8" width="1.6" height="1.1"/><rect x="226.1" y="14.9" width="2.5" height="1.1"/></g>
<g stroke="#505050" stroke-width="1.2" fill="none"><path d="M250.4 8 L250.4 21 M247.8 18.5 L261.4 18.5"/></g><path d="M250.4 6.4 L248.70000000000002 9.2 L252.1 9.2 Z M262.6 18.5 L259.8 16.8 L259.8 20.2 Z" fill="#505050"/>
<path d="M256.6 5.2 L256.6 16.8" stroke="#109018" stroke-width="1.2"/><rect x="254.5" y="7.4" width="4.2" height="7" fill="url(#gcan)" stroke="#109018" stroke-width=".7"/>
<g stroke="#505050" stroke-width="1.2" fill="none"><path d="M278.5 8 L278.5 21 M275.9 18.5 L289.5 18.5"/></g><path d="M278.5 6.4 L276.8 9.2 L280.2 9.2 Z M290.7 18.5 L287.9 16.8 L287.9 20.2 Z" fill="#505050"/>
<path d="M277.2 15.6 Q281 10 283.2 10.3 T288.5 14.1" stroke="#209028" stroke-width="1.1" fill="none"/>
<defs><radialGradient id="glass" cx=".4" cy=".35" r=".7"><stop offset="0" stop-color="#FFFFFF"/><stop offset="1" stop-color="#B4D8F2"/></radialGradient></defs>
<path d="M318.09999999999997 15.3 L322.79999999999995 19.9" stroke="#A07810" stroke-width="3.6" stroke-linecap="butt"/><path d="M318.09999999999997 15.3 L322.5 19.6" stroke="#ECCC48" stroke-width="2.2" stroke-linecap="butt"/><circle cx="313.9" cy="10.9" r="5.3" fill="url(#glass)" stroke="#3A7CCC" stroke-width="1.3"/><path d="M310.5 10.9 L317.29999999999995 10.9" stroke="#3E86B8" stroke-width="1.9"/><path d="M313.9 7.5 L313.9 14.3" stroke="#3E86B8" stroke-width="1.9"/>
<path d="M346.3 15.3 L351.0 19.9" stroke="#A07810" stroke-width="3.6" stroke-linecap="butt"/><path d="M346.3 15.3 L350.70000000000005 19.6" stroke="#ECCC48" stroke-width="2.2" stroke-linecap="butt"/><circle cx="342.1" cy="10.9" r="5.3" fill="url(#glass)" stroke="#3A7CCC" stroke-width="1.3"/><path d="M338.70000000000005 10.9 L345.5 10.9" stroke="#3E86B8" stroke-width="1.9"/>
<rect x="364.2" y="5.1" width="7.8" height="7.8" fill="#3FA01E"/><rect x="364.2" y="5.1" width="7.8" height="2.6" fill="#2E8A12"/><rect x="365.09999999999997" y="8.3" width="6" height="3.6" fill="#FFFFFF"/><rect x="366.2" y="9.5" width="3.8" height=".9" fill="#3FA01E" opacity=".35"/><rect x="365.3" y="6.1" width="1" height="1" fill="#E8F0F8"/><rect x="372" y="5.1" width="7.8" height="7.8" fill="#2458D0"/><rect x="372" y="5.1" width="7.8" height="2.6" fill="#1440B8"/><rect x="372.9" y="8.3" width="6" height="3.6" fill="#FFFFFF"/><rect x="374" y="9.5" width="3.8" height=".9" fill="#2458D0" opacity=".35"/><rect x="373.1" y="6.1" width="1" height="1" fill="#E8F0F8"/><rect x="364.2" y="12.9" width="7.8" height="7.8" fill="#2458D0"/><rect x="364.2" y="12.9" width="7.8" height="2.6" fill="#1440B8"/><rect x="365.09999999999997" y="16.1" width="6" height="3.6" fill="#FFFFFF"/><rect x="366.2" y="17.3" width="3.8" height=".9" fill="#2458D0" opacity=".35"/><rect x="365.3" y="13.9" width="1" height="1" fill="#E8F0F8"/><rect x="372" y="12.9" width="7.8" height="7.8" fill="#3FA01E"/><rect x="372" y="12.9" width="7.8" height="2.6" fill="#2E8A12"/><rect x="372.9" y="16.1" width="6" height="3.6" fill="#FFFFFF"/><rect x="374" y="17.3" width="3.8" height=".9" fill="#3FA01E" opacity=".35"/><rect x="373.1" y="13.9" width="1" height="1" fill="#E8F0F8"/>
<g stroke="#505050" stroke-width="1.2" fill="none"><path d="M402.5 8 L402.5 21 M399.9 18.5 L413.5 18.5"/></g><path d="M402.5 6.4 L400.8 9.2 L404.2 9.2 Z M414.7 18.5 L411.9 16.8 L411.9 20.2 Z" fill="#505050"/>
<path d="M407.3 9.6 L411 12.7 L407.3 15.8 Z" fill="#38D040" stroke="#109018" stroke-width=".8"/>
<g stroke="#505050" stroke-width="1.2" fill="none"><path d="M430.4 8 L430.4 21 M427.79999999999995 18.5 L441.4 18.5"/></g><path d="M430.4 6.4 L428.7 9.2 L432.09999999999997 9.2 Z M442.59999999999997 18.5 L439.79999999999995 16.8 L439.79999999999995 20.2 Z" fill="#505050"/>
<path d="M436.4 7 L436.4 17.2" stroke="#2060C0" stroke-width="1.2"/><path d="M442.3 12.4 L438.2 12.4" stroke="#D04010" stroke-width="1.2"/><path d="M437.4 12.4 L439.9 10.4 L439.9 14.4 Z" fill="#D04010"/>
<path d="M461.7 5.9 L469.3 5.9 L472.3 8.9 L472.3 18.3 L461.7 18.3 Z" fill="#F6F6F6" stroke="#8C8C8C" stroke-width=".9"/><path d="M469.3 5.9 L469.3 8.9 L472.3 8.9" fill="#fff" stroke="#8C8C8C" stroke-width=".7"/>
<path d="M466.3 8.3 Q464.5 8.3 464.8 10 L464.8 14.5 M463.8 11.3 L466.3 11.3" stroke="#404040" stroke-width=".8" fill="none"/>
<path d="M469.2 11.3 L473 11.3 L473 15 L476.7 15 L476.7 18.8 L473 18.8 L473 22.4 L469.2 22.4 L469.2 18.8 L465.4 18.8 L465.4 15 L469.2 15 Z" fill="#28E038" stroke="#0E8A14" stroke-width=".9"/>
<path d="M483 12.2 L488.2 12.2 L485.6 15 Z" fill="#000"/>
<path d="M521.8 12.2 L527.0 12.2 L524.4 15 Z" fill="#000"/>
<path d="M561 12.2 L566.2 12.2 L563.6 15 Z" fill="#000"/>
<path d="M866.8 12.2 L872.0 12.2 L869.4 15 Z" fill="#000"/>
<circle cx="506.9" cy="13.1" r="7.8" fill="#1C5CCC"/><circle cx="506.9" cy="13.1" r="7" fill="none" stroke="#4C8CEC" stroke-width="1"/><circle cx="506.9" cy="13.1" r="5.4" fill="#F8FBFF"/><path d="M506.6 9.5 L506.6 13.3 L509.6 14.1" stroke="#303030" stroke-width="1.1" fill="none"/><circle cx="506.9" cy="17" r=".6" fill="#70A0E0"/>
<rect x="538.6" y="6.7" width="14.8" height="12.6" fill="#FDFEFF" stroke="#2C6CD0" stroke-width="1.1"/><rect x="538.6" y="6.7" width="14.8" height="2" fill="#3C80E0"/><path d="M539 14.1 L553 14.1" stroke="#2C6CD0" stroke-width=".9"/><path d="M540.3 12.4 L542.5 12.2 L544.5 10.8 L546.5 11.6 L548.5 11.2 L551.5 10.3" stroke="#A01808" stroke-width="1.1" fill="none"/><path d="M540.3 17.5 L542.5 17 L544.5 17.5 L546.5 16.6 L548.8 15.5 L551.5 17.6" stroke="#10981C" stroke-width="1.1" fill="none"/>
<path d="M590 5.5 L590 18 L593 15.2 L595.3 20.2 L597.3 19.3 L595 14.3 L598.6 14 Z" fill="#484848"/>
<path d="M622.5 6 L622.5 20 M615 13.5 L630 13.5" stroke="#505050" stroke-width="1.3"/><rect x="621.5" y="12.5" width="2" height="2" fill="#F0F0F0"/>
<path d="M656.5 7 L656.5 20" stroke="#505050" stroke-width="1.4"/>
<path d="M679 13.5 L691 13.5" stroke="#505050" stroke-width="1.4"/>
<path d="M707 19.7 L719 8.2" stroke="#505050" stroke-width="1.4"/>
<g stroke="#505050" stroke-width="1.1" fill="none"><path d="M733 15 L745 6 M735 19 L747 10 M736 12.5 L737.5 19 M739.5 10 L741 16.5 M743 7 L744.5 14"/></g>
<text x="743.5" y="21.5" font-size="7" font-weight="bold" fill="#404040">E</text>
<path d="M762 6.5 L775 6.5" stroke="#606060" stroke-width="1" stroke-dasharray="1 1"/>
<path d="M762 9.5 L775 9.5" stroke="#606060" stroke-width="1" stroke-dasharray="1 1"/>
<path d="M762 13.5 L775 13.5" stroke="#606060" stroke-width="1" stroke-dasharray="1 1"/>
<path d="M762 17.5 L775 17.5" stroke="#606060" stroke-width="1" stroke-dasharray="1 1"/>
<rect x="770" y="15" width="7" height="7" fill="#F0F0F0"/><text x="771" y="21.5" font-size="7" font-weight="bold" fill="#404040">F</text>
<text x="792.3" y="17.8" font-size="12.5" font-weight="bold" fill="#6A6A6A" textLength="8.6" lengthAdjust="spacingAndGlyphs">A</text>
<rect x="819.5" y="7.5" width="11" height="12" fill="none" stroke="#606060" stroke-dasharray="1 1" shape-rendering="crispEdges"/><text x="821.3" y="18" font-size="12" font-weight="bold" fill="#606060">T</text>
<g fill="#505050"><path d="M849.6 7.2 L853 9.8 L849.6 12.4 L846.2 9.8 Z"/><path d="M856.7 14.3 L860.1 16.9 L856.7 19.5 L853.3 16.9 Z"/><path d="M848.4 14.5 L850.7 16.5 L855.2 11.3" stroke="#505050" stroke-width="1.3" fill="none"/></g>
<text x="893.7" y="17" font-size="9.6" fill="#383838" textLength="12.3" lengthAdjust="spacingAndGlyphs">M1</text>
<text x="921.6" y="17" font-size="9.6" fill="#383838" textLength="12.7" lengthAdjust="spacingAndGlyphs">M5</text>
<text x="947.7" y="17" font-size="9.6" fill="#383838" textLength="17.3" lengthAdjust="spacingAndGlyphs">M15</text>
<text x="975.5" y="17" font-size="9.6" fill="#383838" textLength="17.7" lengthAdjust="spacingAndGlyphs">M30</text>
<text x="1006.7" y="17" font-size="9.6" fill="#383838" textLength="11.4" lengthAdjust="spacingAndGlyphs">H1</text>
<text x="1033.6" y="17" font-size="9.6" fill="#383838" textLength="12.4" lengthAdjust="spacingAndGlyphs">H4</text>
<text x="1062.5" y="17" font-size="9.6" fill="#383838" textLength="11.5" lengthAdjust="spacingAndGlyphs">D1</text>
<text x="1090.5" y="17" font-size="9.6" fill="#383838" textLength="13.5" lengthAdjust="spacingAndGlyphs">W1</text>
<text x="1116.7" y="17" font-size="9.6" fill="#383838" textLength="14.6" lengthAdjust="spacingAndGlyphs">MN</text>
<path d="M1601.9 17.8 L1606.6 13.2" stroke="#1848D0" stroke-width="2.5" stroke-linecap="round"/><circle cx="1609.4" cy="10.4" r="3.9" fill="#F6FAFF" stroke="#2A5CE0" stroke-width="1.2"/>
<defs><linearGradient id="bub" x1="0" y1="0" x2="0" y2="1"><stop offset="0" stop-color="#FFFFFF"/><stop offset="1" stop-color="#D8D8E4"/></linearGradient></defs>
<g fill="url(#bub)" stroke="#8C8C8C" stroke-width="1"><path d="M1644.5 13.5 L1645.8 16.5 L1641.5 13.8 Z"/><ellipse cx="1642.2" cy="9.5" rx="6.4" ry="4.3"/><path d="M1631.3 17.8 L1630.5 19.8 L1634 18.2 Z"/><ellipse cx="1633.4" cy="14.4" rx="5" ry="3.8"/></g>
</svg>

<div style="position:absolute;left:0;top:49px;width:48px;height:25px;box-sizing:border-box;border-top:1px solid #1010C4;border-right:1px solid #1010C4;background:linear-gradient(#5A5AFF,#3A3AE8)"></div>
<div style="position:absolute;left:163px;top:49px;width:52px;height:25px;box-sizing:border-box;border:1px solid #1010C4;border-bottom:0;background:linear-gradient(#5A5AFF,#3A3AE8)"></div>
<div style="position:absolute;left:0;top:73px;width:105px;height:40px;box-sizing:border-box;border-right:1px solid #0808B0;border-bottom:1px solid #0000A0;background:linear-gradient(#3434E8,#0000B0)"></div>
<div style="position:absolute;left:107px;top:73px;width:108px;height:40px;box-sizing:border-box;border:1px solid #0808B0;border-top:0;border-bottom:1px solid #0000A0;background:linear-gradient(#3434E8,#0000B0)"></div>
<div style="position:absolute;left:0;top:72px;width:44px;height:1px;background:#2020C8"></div>
<div style="position:absolute;left:0;top:73px;width:44px;height:1px;background:#8888F4"></div>
<div style="position:absolute;left:167px;top:72px;width:44px;height:1px;background:#2020C8"></div>
<div style="position:absolute;left:167px;top:73px;width:44px;height:1px;background:#8888F4"></div>
<div style="position:absolute;left:50px;top:49px;width:111px;height:22px;background:#fff;border:1px solid #BEBEBE;box-sizing:border-box"></div>
<div style="position:absolute;left:51px;top:50px;width:20px;height:20px;background:linear-gradient(#F4F4F4,#E4E4E4 45%,#D6D6D6 50%,#DADADA);border:1px solid #F8F8F8;border-right:1px solid #BEBEBE;box-sizing:border-box"></div>
<div style="position:absolute;left:140px;top:50px;width:20px;height:20px;background:linear-gradient(#F4F4F4,#E4E4E4 45%,#D6D6D6 50%,#DADADA);border:1px solid #F8F8F8;border-left:1px solid #BEBEBE;box-sizing:border-box"></div>
<svg width="220" height="120" style="position:absolute;left:0;top:0" font-family="'Liberation Sans', sans-serif">
<path d="M57.8 58.5 L62.8 58.5 L60.3 61.3 Z" fill="#4A6FD0"/><path d="M146.8 61 L152.2 61 L149.5 58 Z" fill="#4A6FD0"/>
<text transform="translate(8.3,65.3) scale(.86,1)" font-size="12.5" fill="#fff">SELL</text>
<text transform="translate(176.2,65.3) scale(.86,1)" font-size="12.5" fill="#fff">BUY</text>
<text transform="translate(135.8,64) scale(.95,1)" font-size="12.6" fill="#000" text-anchor="end">1.00</text>
<text transform="translate(12.6,104) scale(.98,1)" font-size="12.6" font-weight="bold" fill="#fff">28084</text>
<text transform="translate(122.2,104) scale(.98,1)" font-size="12.6" font-weight="bold" fill="#fff">28098</text>
<rect x="51.6" y="100" width="4.2" height="4.2" fill="#fff"/><text transform="translate(58.2,104) scale(.78,1)" font-size="35" fill="#fff">5</text>
<rect x="162.7" y="100" width="4.2" height="4.2" fill="#fff"/><text transform="translate(169.3,104) scale(.78,1)" font-size="35" fill="#fff">5</text>
</svg>

</body></html>
